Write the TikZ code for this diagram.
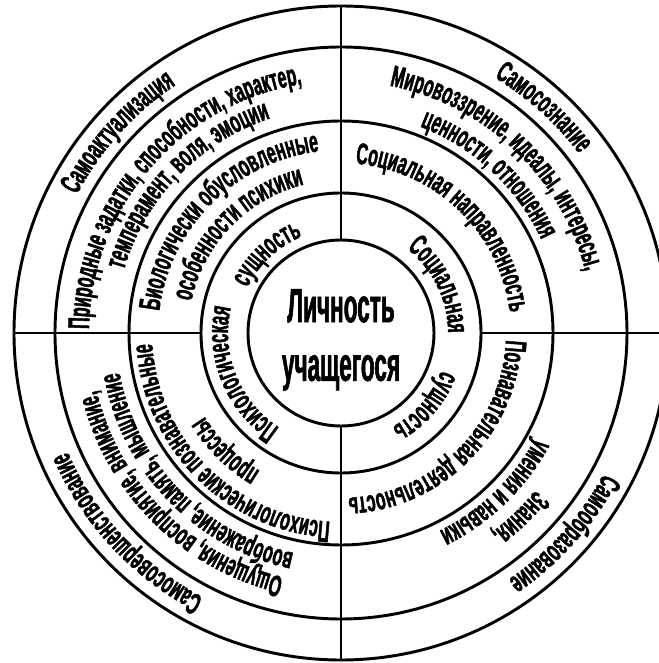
\documentclass[tikz,border=0pt]{standalone}
\usepackage{fontspec}
\newfontfamily\condfont{Liberation Sans}[FakeStretch=0.53, FakeBold=1.5]
\newfontfamily\titlefont{Liberation Sans}[FakeStretch=0.47, FakeBold=1.2]
\usetikzlibrary{decorations.text}

\begin{document}
\begin{tikzpicture}[
  x=0.75pt, y=0.75pt,
  ring/.style={line width=2.2pt},
  divider/.style={line width=2pt},
  arctext/.style={decorate, decoration={text along path, text align=center,
                  text={|\condfont\bfseries\fontsize{22.5}{22.5}\selectfont|#1}}},
  title/.style={font=\titlefont\bfseries\fontsize{36}{44}\selectfont, align=center}
]

\useasboundingbox (-341,-330) rectangle (318,333);
\clip (-341,-330) rectangle (318,333);

% rings
\draw[ring] (0,0) circle[radius=93];
\draw[ring] (0,0) circle[radius=140];
\draw[ring] (0,0) circle[radius=212];
\draw[ring] (0,0) circle[radius=286];
\draw[ring] (0,0) circle[radius=327];

% cross
\draw[divider] (0,93) -- (0,327);
\draw[divider] (0,-93) -- (0,-327);
\draw[divider] (-140,0) -- (-327,0);
\draw[divider] (140,0) -- (327,0);

\node[title] (lich) at (0,-7) {Личность\\учащегося};

% inner ring
\path[arctext={Психологическая}] (292:113) arc[start angle=292, end angle=112, radius=113];
\path[arctext={сущность}] (223:104) arc[start angle=223, end angle=43, radius=104];
\path[arctext={Социальная}] (116:107) arc[start angle=116, end angle=-64, radius=107];
\path[arctext={сущность}] (49:107) arc[start angle=49, end angle=-131, radius=107];

% second ring
\path[arctext={Биологически обусловленные}] (225:183) arc[start angle=225, end angle=45, radius=183];
\path[arctext={особенности психики}] (226:153) arc[start angle=226, end angle=46, radius=153];
\path[arctext={Социальная направленность}] (136:170) arc[start angle=136, end angle=-44, radius=170];
\path[arctext={Познавательная деятельность}] (45:165) arc[start angle=45, end angle=-135, radius=165];
\path[arctext={Психологические познавательные}] (-45:189) arc[start angle=-45, end angle=-225, radius=189];
\path[arctext={процессы}] (-44.5:160) arc[start angle=-44.5, end angle=-224.5, radius=160];

% third ring
\path[arctext={Природные задатки, способности, характер,}] (229:252) arc[start angle=229, end angle=49, radius=252];
\path[arctext={темперамент, воля, эмоции}] (226:226) arc[start angle=226, end angle=46, radius=226];
\path[arctext={Мировоззрение, идеалы, интересы,}] (136.5:252) arc[start angle=136.5, end angle=-43.5, radius=252];
\path[arctext={ценности, отношения}] (137:221) arc[start angle=137, end angle=-43, radius=221];
\path[arctext={Знания,}] (44:250) arc[start angle=44, end angle=-136, radius=250];
\path[arctext={умения и навыки}] (44:221) arc[start angle=44, end angle=-136, radius=221];
\path[arctext={Ощущения, восприятие, внимание,}] (-45:251) arc[start angle=-45, end angle=-225, radius=251];
\path[arctext={воображение, память, мышление}] (-46:225) arc[start angle=-46, end angle=-226, radius=225];

% outer ring
\path[arctext={Самоактуализация}] (228:298) arc[start angle=228, end angle=48, radius=298];
\path[arctext={Самосознание}] (138:298) arc[start angle=138, end angle=-42, radius=298];
\path[arctext={Самообразование}] (48:298) arc[start angle=48, end angle=-132, radius=298];
\path[arctext={Самосовершенствование}] (-47:298) arc[start angle=-47, end angle=-227, radius=298];

\end{tikzpicture}
\end{document}
